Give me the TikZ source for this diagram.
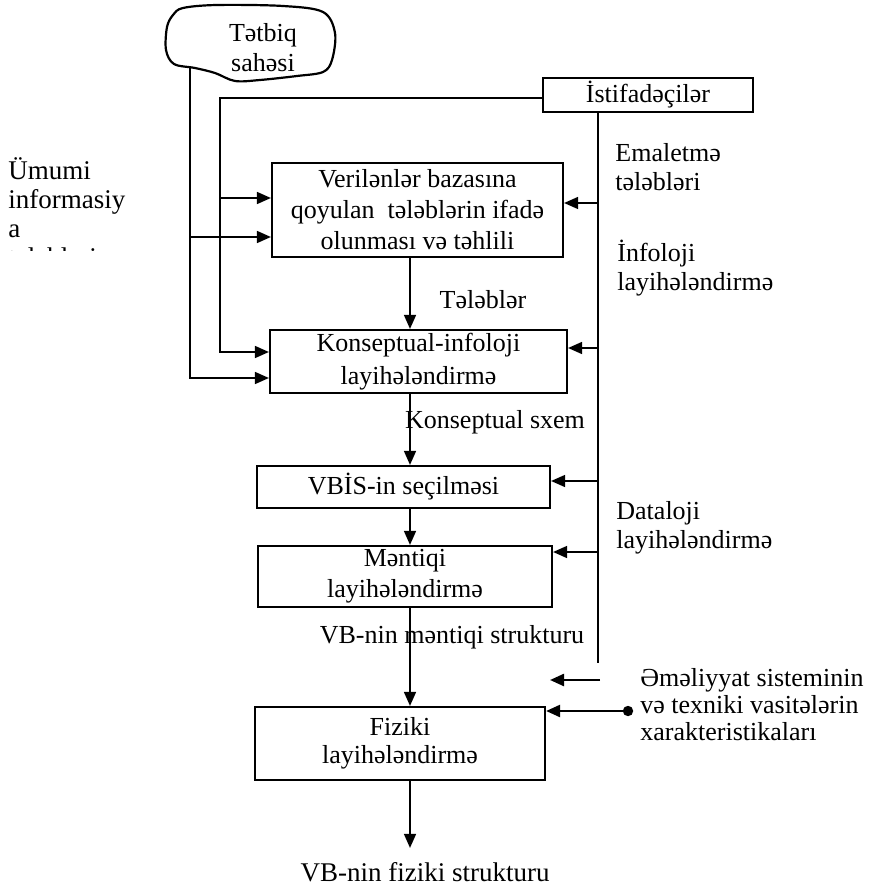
\documentclass[tikz,border=0pt]{standalone}
\usepackage{fontspec}
\setmainfont{Liberation Serif}
\usetikzlibrary{arrows.meta,calc,positioning}

\begin{document}
\begin{tikzpicture}[
  x=0.5pt,y=-0.5pt,
  >={Triangle[length=7pt,width=6pt]},
  blok/.style={draw,line width=1.1pt,inner sep=0pt,align=center,
    font=\fontsize{13}{15.5}\selectfont},
  yazi/.style={inner sep=0pt,align=left,font=\fontsize{13}{14.5}\selectfont},
  xett/.style={line width=0.8pt},
  ox/.style={xett,->}
]
  \useasboundingbox (0,0) rectangle (878,887);

  % boxes of the design chain
  \node[blok,minimum width=145.5pt,minimum height=47pt] (ver) at (417.5,210)
    {Verilənlər bazasına\\qoyulan\ \ tələblərin ifadə\\olunması və təhlili};
  \node[blok,minimum width=148.5pt,minimum height=31.5pt,
    font=\fontsize{13}{16.5}\selectfont] (kon) at (418.5,361.5)
    {Konseptual-infoloji\\layihələndirmə};
  \node[blok,minimum width=146.5pt,minimum height=21pt] (vbis) at (403.5,487)
    {VBİS-in seçilməsi};
  \node[blok,minimum width=147pt,minimum height=30.5pt] (man) at (405,576.5)
    {Məntiqi\\layihələndirmə};
  \node[blok,minimum width=145pt,minimum height=36.5pt,
    font=\fontsize{13}{14}\selectfont] (fiz) at (400,743.5)
    {Fiziki\\layihələndirmə};
  \node[blok,minimum width=105pt,minimum height=17pt] (istif) at (648,95)
    {İstifadəçilər};

  % application area
  \draw[line width=1.1pt] plot[smooth cycle,tension=0.55] coordinates {
    (183,8) (217,5) (283,6) (323,12) (335,33) (332,60) (323,72) (297,76)
    (260,80) (235,81) (215,73) (195,68) (174,64) (166,50) (167,27) (173,15)};
  \node[font=\fontsize{13}{15}\selectfont,align=center,inner sep=0pt] (tatbiq)
    at (263,48) {Tətbiq\\sahəsi};
  \coordinate (tatbiqalt) at (190,68);

  % labels
  \node[yazi] (teleb) at (483,300) {Tələblər};
  \node[yazi] (sxem) at (495,422) {Konseptual sxem};
  \node[yazi] (mstr) at (452,637) {VB-nin məntiqi strukturu};
  \node[yazi,font=\fontsize{13.5}{15}\selectfont] (fizstr) at (425,872)
    {VB-nin fiziki strukturu};
  \node[yazi,anchor=west] (emal) at (615,167) {Emaletmə\\tələbləri};
  \node[yazi,anchor=west] (infoloji) at (617,268) {İnfoloji\\layihələndirmə};
  \node[yazi,anchor=west] (dataloji) at (616,528) {Dataloji\\layihələndirmə};
  \node[yazi,anchor=west,font=\fontsize{13}{13.5}\selectfont] (emeliyyat)
    at (640,705) {Əməliyyat sisteminin\\və texniki vasitələrin\\xarakteristikaları};
  \begin{scope}
    \clip (0,0) rectangle (170,251);
    \node[yazi,anchor=north west,font=\fontsize{13.5}{14.5}\selectfont] (umumi)
      at (8,157) {Ümumi\\informasiy\\a\\tələbləri};
  \end{scope}

  % main flow
  \coordinate (oq) at (410,0);
  \draw[ox] (ver.south -| oq) -- (kon.north -| oq);
  \draw[ox] (kon.south -| oq) -- (vbis.north -| oq);
  \draw[ox] (vbis.south -| oq) -- (man.north -| oq);
  \draw[ox] (man.south -| oq) -- (fiz.north -| oq);
  \draw[ox,shorten >=7pt] (fiz.south -| oq) -- (fizstr.north -| oq);

  % users on the right
  \coordinate (sag) at (598,0);
  \coordinate (sagson) at (598,663);
  \draw[xett] (istif.south -| sag) -- (sagson);
  \foreach \b/\y in {ver/203,kon/348,vbis/481,man/552}
    \draw[ox] (sag |- 0,\y) -- (\b.east |- 0,\y);
  \coordinate (sv1) at (600,680);
  \coordinate (sv2) at (550,680);
  \draw[ox,line width=1.2pt] (sv1) -- (sv2);
  \coordinate (noqte) at (628,711);
  \fill (noqte) circle (2.6pt);
  \draw[ox,line width=1.2pt] (noqte) -- (fiz.east |- noqte);

  % users on the left
  \coordinate (sol) at (220,98);
  \draw[ox] (istif.west |- sol) -- (sol) |- (kon.west |- 0,352);
  \draw[ox] (sol |- 0,198) -- (ver.west |- 0,198);

  % application area on the left
  \draw[ox] (tatbiqalt) |- (kon.west |- 0,378);
  \draw[ox] (tatbiqalt |- 0,237) -- (ver.west |- 0,237);
\end{tikzpicture}
\end{document}
